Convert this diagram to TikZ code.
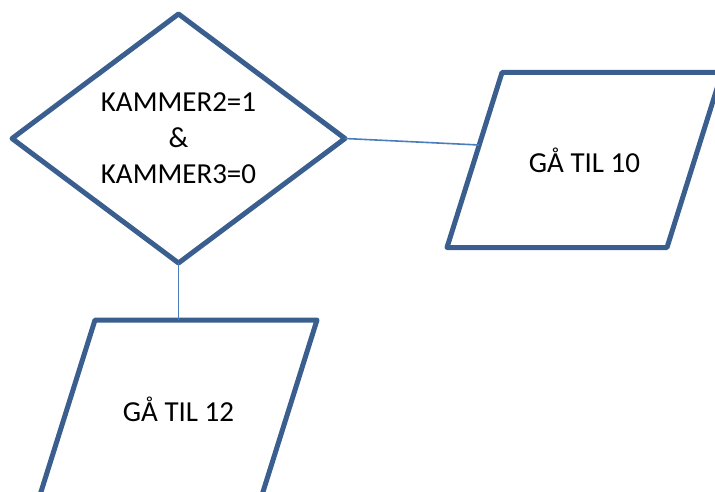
\documentclass[tikz,border=0pt]{standalone}
\usepackage{fontspec}
\setmainfont{Carlito}
\usetikzlibrary{shapes.geometric}
\definecolor{boxblue}{HTML}{3A5F8F}
\definecolor{lineblue}{HTML}{4A7EBB}
\begin{document}
\begin{tikzpicture}[x=1pt,y=-1pt,
    decision/.style={diamond,draw=boxblue,line width=5pt,line join=round,
        inner sep=0pt,outer sep=0pt,aspect=1.34,
        minimum width=333pt,minimum height=249pt,align=center,
        font=\fontsize{29}{36}\selectfont},
    iotext/.style={inner sep=0pt,font=\fontsize{29}{36}\selectfont},
    iobox/.style={draw=boxblue,line width=5pt,line join=round},
    link/.style={draw=lineblue,line width=1.6pt}]
    \useasboundingbox (0,0) rectangle (715,492);
    \clip (0,0) rectangle (715,492);
    \node[decision] (test) at (178.5,138.5) {KAMMER2=1\\\&\\KAMMER3=0};
    % output boxes
    \node[iotext] (goto10) at (584.5,160) {GÅ TIL 10};
    \draw[iobox] ([shift={(-137.5,87.5)}]goto10.center) -- ++(55,-175)
        -- ++(220,0) -- ++(-55,175) -- cycle;
    \coordinate (in10) at ([shift={(-105.5,-15)}]goto10.center);
    \node[iotext] (goto12) at (178.5,409) {GÅ TIL 12};
    \draw[iobox] ([shift={(-138.5,86)}]goto12.center) -- ++(55,-175)
        -- ++(222,0) -- ++(-55,175) -- cycle;
    \coordinate (in12) at ([shift={(0,-89)}]goto12.center);
    % connectors
    \draw[link] (test.east) -- (in10);
    \draw[link] (test.south) -- (in12);
\end{tikzpicture}
\end{document}
